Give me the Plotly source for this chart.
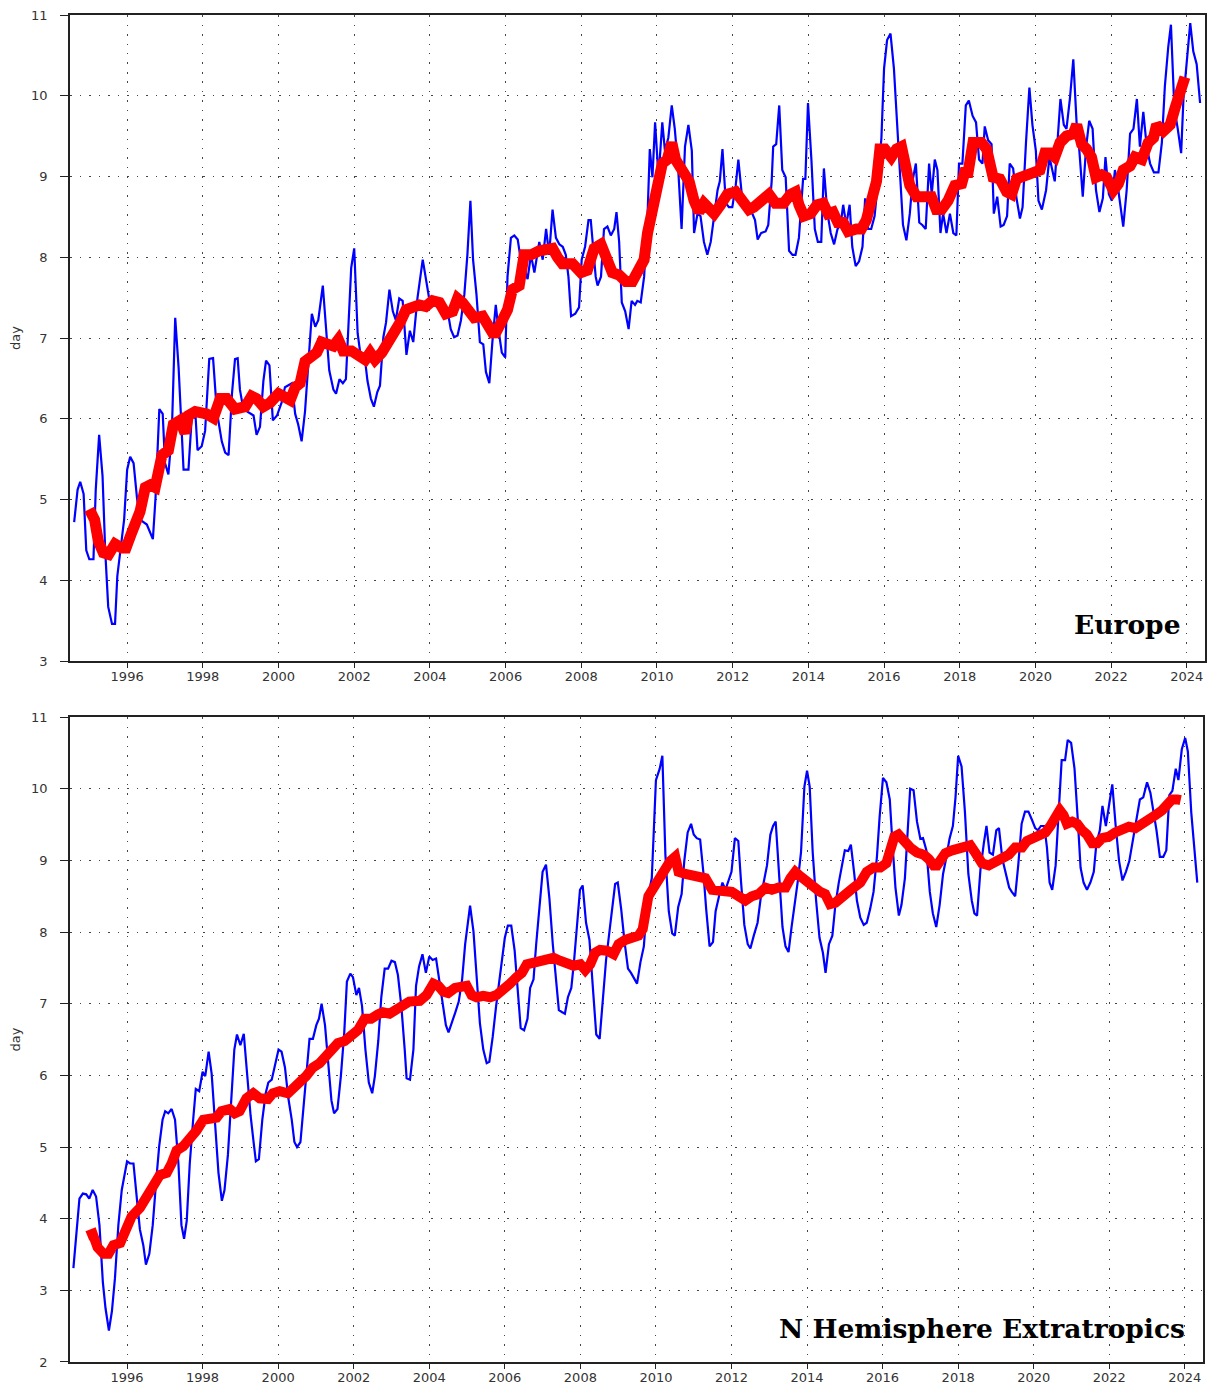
import plotly.graph_objects as go

# ---------------- Europe ----------------
eu_month_year = [
1994.60,1994.69,1994.76,1994.85,1994.92,1995.00,1995.11,1995.17,1995.26,1995.35,1995.42,1995.50,1995.60,1995.68,1995.74,1995.83,1995.92,
1996.00,1996.08,1996.17,1996.26,1996.34,1996.52,1996.68,1996.75,1996.85,1996.94,1997.00,1997.09,1997.18,1997.27,1997.36,1997.43,1997.49,
1997.62,1997.71,1997.80,1997.86,1997.97,1998.06,1998.17,1998.27,1998.37,1998.50,1998.59,1998.68,1998.77,1998.85,1998.92,1998.98,1999.07,
1999.16,1999.34,1999.42,1999.51,1999.60,1999.67,1999.76,1999.85,1999.96,2000.08,2000.17,2000.35,2000.44,2000.52,2000.61,2000.70,2000.82,
2000.88,2000.97,2001.05,2001.17,2001.25,2001.34,2001.45,2001.52,2001.61,2001.70,2001.78,2001.92,2002.00,2002.09,2002.18,2002.29,2002.35,
2002.44,2002.52,2002.61,2002.68,2002.77,2002.84,2002.93,2003.02,2003.10,2003.19,2003.28,2003.38,2003.47,2003.56,2003.67,2003.81,2003.89,
2003.98,2004.07,2004.20,2004.47,2004.55,2004.64,2004.73,2004.82,2004.91,2004.99,2005.07,2005.14,2005.23,2005.32,2005.41,2005.48,2005.57,
2005.65,2005.74,2005.81,2005.90,2005.99,2006.05,2006.14,2006.23,2006.32,2006.40,2006.49,2006.58,2006.67,2006.76,2006.89,2006.98,2007.07,
2007.15,2007.24,2007.33,2007.42,2007.51,2007.59,2007.66,2007.73,2007.84,2007.94,2008.01,2008.10,2008.19,2008.25,2008.31,2008.38,2008.43,
2008.52,2008.60,2008.69,2008.78,2008.87,2008.93,2009.00,2009.07,2009.16,2009.25,2009.33,2009.42,2009.48,2009.57,2009.66,2009.75,2009.81,
2009.88,2009.95,2010.04,2010.14,2010.21,2010.30,2010.39,2010.47,2010.56,2010.65,2010.74,2010.83,2010.92,2010.98,2011.07,2011.15,2011.24,
2011.33,2011.42,2011.51,2011.60,2011.66,2011.73,2011.82,2011.90,2011.99,2012.08,2012.15,2012.24,2012.32,2012.50,2012.59,2012.66,2012.75,
2012.87,2012.94,2013.03,2013.07,2013.15,2013.23,2013.31,2013.40,2013.49,2013.58,2013.66,2013.75,2013.86,2013.92,2013.99,2014.08,2014.17,
2014.25,2014.34,2014.41,2014.50,2014.59,2014.68,2014.77,2014.85,2014.92,2015.00,2015.09,2015.16,2015.25,2015.34,2015.43,2015.50,2015.58,
2015.66,2015.75,2015.84,2015.93,2016.00,2016.08,2016.17,2016.26,2016.34,2016.43,2016.50,2016.59,2016.68,2016.75,2016.84,2016.93,2017.01,
2017.10,2017.19,2017.26,2017.34,2017.41,2017.49,2017.56,2017.65,2017.74,2017.83,2017.91,2017.98,2018.07,2018.16,2018.24,2018.34,2018.43,
2018.51,2018.60,2018.66,2018.75,2018.84,2018.90,2018.99,2019.08,2019.16,2019.25,2019.32,2019.41,2019.50,2019.59,2019.66,2019.75,2019.84,
2019.92,2020.01,2020.08,2020.17,2020.28,2020.37,2020.51,2020.58,2020.66,2020.75,2020.82,2020.91,2021.00,2021.09,2021.16,2021.25,2021.34,
2021.42,2021.51,2021.60,2021.69,2021.78,2021.85,2021.94,2022.02,2022.10,2022.19,2022.32,2022.41,2022.50,2022.59,2022.68,2022.76,2022.85,
2022.94,2023.03,2023.13,2023.25,2023.34,2023.42,2023.51,2023.58,2023.67,2023.76,2023.85,2023.91,2024.00,2024.09,2024.17,2024.26,2024.35]
eu_month_day = [
4.72,5.12,5.22,5.07,4.37,4.26,4.26,5.12,5.80,5.29,4.37,3.67,3.46,3.46,4.05,4.37,4.75,
5.37,5.53,5.45,5.02,4.75,4.69,4.51,5.02,6.12,6.06,5.45,5.31,5.82,7.25,6.63,6.04,5.37,
5.37,6.04,6.09,5.61,5.66,5.85,6.74,6.75,6.09,5.72,5.58,5.55,6.31,6.74,6.75,6.36,6.12,
6.09,6.04,5.80,5.90,6.47,6.72,6.66,5.98,6.04,6.20,6.39,6.44,6.06,5.93,5.72,6.09,6.90,
7.30,7.14,7.22,7.65,7.11,6.60,6.36,6.31,6.49,6.44,6.49,7.87,8.11,7.06,6.74,6.71,6.47,
6.25,6.15,6.33,6.41,7.01,7.19,7.60,7.33,7.22,7.49,7.46,6.79,7.09,6.95,7.49,7.97,7.76,
7.49,7.44,7.44,7.33,7.11,7.01,7.03,7.22,7.54,8.03,8.70,7.97,7.54,6.95,6.92,6.58,6.44,
6.95,7.41,7.11,6.82,6.76,7.76,8.24,8.27,8.22,7.97,7.87,7.73,8.03,7.81,8.19,7.97,8.35,
8.03,8.59,8.24,8.16,8.13,8.03,7.76,7.27,7.30,7.38,7.97,8.13,8.46,8.46,8.08,7.76,7.65,
7.76,8.35,8.38,8.27,8.35,8.56,8.19,7.44,7.33,7.11,7.46,7.41,7.46,7.44,7.76,8.51,9.34,
8.99,9.67,8.99,9.67,9.32,9.48,9.88,9.59,9.10,8.35,9.37,9.64,9.32,8.30,8.54,8.51,8.19,
8.03,8.19,8.54,8.83,8.94,9.34,8.67,8.62,8.62,8.89,9.21,8.78,8.62,8.56,8.46,8.22,8.30,
8.32,8.40,8.94,9.37,9.40,9.88,9.08,8.99,8.08,8.03,8.03,8.24,8.97,8.97,9.91,9.21,8.35,
8.19,8.19,9.10,8.56,8.30,8.16,8.35,8.40,8.65,8.40,8.65,8.13,7.89,7.95,8.13,8.73,8.35,
8.35,8.51,8.94,9.48,10.34,10.69,10.77,10.34,9.69,8.99,8.40,8.21,8.54,8.94,9.16,8.43,8.40,
8.35,9.16,8.78,9.21,9.08,8.30,8.54,8.30,8.54,8.30,8.27,9.16,9.16,9.88,9.94,9.75,9.67,
9.21,9.16,9.62,9.45,9.40,8.54,8.75,8.38,8.40,8.51,9.16,9.10,8.73,8.48,8.62,9.42,10.10,
9.64,9.32,8.70,8.59,8.83,9.24,8.94,9.48,9.96,9.64,9.59,9.96,10.45,9.64,9.32,8.75,9.37,
9.69,9.59,8.83,8.56,8.73,9.24,8.78,8.70,9.08,8.83,8.38,8.83,9.53,9.59,9.96,9.37,9.80,
9.37,9.16,9.05,9.05,9.42,10.12,10.61,10.88,9.85,9.59,9.29,9.96,10.47,10.90,10.55,10.39,9.91]

eu_mean_year = [
1995.00,1995.14,1995.24,1995.37,1995.51,1995.68,1995.86,1995.97,1996.12,1996.34,1996.48,1996.61,1996.74,1996.92,1997.09,1997.22,1997.40,
1997.53,1997.62,1997.80,1998.10,1998.28,1998.46,1998.63,1998.85,1999.12,1999.29,1999.42,1999.60,1999.78,2000.00,2000.17,2000.31,2000.44,
2000.57,2000.70,2000.88,2001.01,2001.14,2001.32,2001.45,2001.58,2001.71,2001.93,2002.15,2002.29,2002.42,2002.55,2002.73,2002.90,2003.08,
2003.21,2003.37,2003.54,2003.72,2003.89,2004.07,2004.25,2004.42,2004.60,2004.73,2004.86,2004.99,2005.17,2005.39,2005.52,2005.70,2005.88,
2006.05,2006.18,2006.36,2006.49,2006.67,2006.89,2007.06,2007.24,2007.37,2007.50,2007.77,2007.99,2008.16,2008.34,2008.52,2008.65,2008.82,
2009.00,2009.18,2009.35,2009.51,2009.66,2009.75,2009.88,2010.01,2010.14,2010.27,2010.39,2010.49,2010.67,2010.85,2010.98,2011.11,2011.24,
2011.38,2011.51,2011.68,2011.86,2012.08,2012.26,2012.43,2012.56,2012.74,2012.96,2013.13,2013.35,2013.53,2013.66,2013.75,2013.88,2014.06,
2014.23,2014.39,2014.52,2014.65,2014.78,2014.92,2015.05,2015.27,2015.40,2015.53,2015.66,2015.80,2015.89,2016.02,2016.19,2016.33,2016.46,
2016.55,2016.68,2016.86,2017.08,2017.25,2017.38,2017.52,2017.69,2017.87,2018.05,2018.13,2018.22,2018.35,2018.57,2018.71,2018.88,2019.06,
2019.24,2019.37,2019.50,2019.72,2019.94,2020.12,2020.25,2020.38,2020.51,2020.65,2020.82,2021.00,2021.09,2021.22,2021.35,2021.48,2021.60,
2021.75,2021.88,2022.06,2022.19,2022.32,2022.50,2022.63,2022.81,2022.98,2023.12,2023.20,2023.38,2023.56,2023.69,2023.82,2023.95]
eu_mean_day = [
4.88,4.75,4.48,4.34,4.32,4.45,4.40,4.40,4.59,4.85,5.15,5.18,5.15,5.55,5.61,5.93,5.98,
5.82,6.04,6.09,6.06,6.01,6.25,6.25,6.12,6.15,6.28,6.25,6.15,6.20,6.31,6.28,6.23,6.39,
6.44,6.71,6.76,6.82,6.95,6.92,6.90,6.98,6.84,6.84,6.76,6.73,6.82,6.73,6.82,6.95,7.06,
7.19,7.35,7.38,7.41,7.39,7.46,7.44,7.30,7.33,7.49,7.44,7.38,7.25,7.27,7.14,7.03,7.19,
7.35,7.60,7.65,8.03,8.03,8.08,8.11,8.11,8.00,7.92,7.92,7.81,7.84,8.11,8.16,7.97,7.81,
7.78,7.70,7.70,7.81,7.97,8.30,8.56,8.78,9.16,9.21,9.42,9.21,9.10,8.94,8.70,8.56,8.67,
8.62,8.54,8.65,8.78,8.81,8.67,8.59,8.62,8.70,8.78,8.67,8.67,8.78,8.81,8.65,8.51,8.54,
8.65,8.67,8.54,8.56,8.43,8.43,8.32,8.35,8.35,8.46,8.67,8.94,9.34,9.34,9.24,9.34,9.37,
9.16,8.89,8.75,8.75,8.75,8.59,8.59,8.70,8.89,8.91,9.05,9.05,9.42,9.42,9.34,8.99,8.97,
8.81,8.78,8.97,9.02,9.05,9.08,9.29,9.29,9.24,9.42,9.50,9.53,9.64,9.40,9.34,9.24,8.99,
9.02,8.99,8.83,8.91,9.08,9.13,9.24,9.21,9.42,9.48,9.64,9.56,9.64,9.85,10.07,10.23]

# ---------------- N Hemisphere Extratropics ----------------
nh_month_year = [
1994.58,1994.67,1994.74,1994.83,1994.92,1995.00,1995.09,1995.18,1995.27,1995.36,1995.43,1995.52,1995.60,1995.68,1995.77,1995.86,1995.93,
1996.00,1996.08,1996.17,1996.26,1996.34,1996.43,1996.50,1996.59,1996.68,1996.77,1996.85,1996.94,1997.01,1997.09,1997.18,1997.27,1997.36,
1997.44,1997.51,1997.58,1997.66,1997.75,1997.82,1997.91,1998.00,1998.07,1998.16,1998.24,1998.33,1998.42,1998.51,1998.58,1998.67,1998.76,
1998.84,1998.91,1999.00,1999.09,1999.18,1999.27,1999.35,1999.41,1999.49,1999.58,1999.67,1999.74,1999.83,1999.92,2000.01,2000.09,2000.18,
2000.27,2000.36,2000.43,2000.50,2000.59,2000.67,2000.74,2000.83,2000.92,2001.01,2001.08,2001.15,2001.24,2001.33,2001.41,2001.48,2001.57,
2001.66,2001.75,2001.82,2001.91,2001.98,2002.07,2002.14,2002.22,2002.31,2002.40,2002.49,2002.56,2002.65,2002.73,2002.82,2002.91,2003.00,
2003.09,2003.17,2003.26,2003.35,2003.40,2003.49,2003.58,2003.65,2003.73,2003.82,2003.91,2004.00,2004.09,2004.18,2004.27,2004.35,2004.44,
2004.51,2004.60,2004.69,2004.78,2004.87,2004.95,2005.08,2005.17,2005.25,2005.34,2005.43,2005.52,2005.59,2005.68,2005.77,2005.86,2005.93,
2006.00,2006.08,2006.17,2006.26,2006.35,2006.42,2006.51,2006.60,2006.67,2006.76,2006.83,2006.92,2007.00,2007.09,2007.18,2007.27,2007.34,
2007.43,2007.52,2007.59,2007.67,2007.76,2007.83,2007.92,2007.99,2008.06,2008.15,2008.24,2008.33,2008.42,2008.51,2008.59,2008.68,2008.77,
2008.86,2008.92,2008.99,2009.08,2009.17,2009.26,2009.34,2009.43,2009.50,2009.59,2009.68,2009.77,2009.89,2010.00,2010.10,2010.17,2010.25,
2010.34,2010.43,2010.50,2010.59,2010.68,2010.75,2010.84,2010.93,2011.00,2011.08,2011.17,2011.26,2011.33,2011.42,2011.51,2011.58,2011.67,
2011.76,2011.84,2011.93,2012.00,2012.09,2012.18,2012.25,2012.34,2012.43,2012.50,2012.59,2012.69,2012.78,2012.87,2012.94,2013.03,2013.10,
2013.17,2013.26,2013.35,2013.43,2013.51,2013.59,2013.68,2013.75,2013.84,2013.93,2014.00,2014.07,2014.15,2014.24,2014.33,2014.42,2014.49,
2014.58,2014.67,2014.75,2014.84,2014.93,2015.00,2015.09,2015.16,2015.25,2015.32,2015.41,2015.50,2015.58,2015.67,2015.76,2015.85,2015.92,
2016.01,2016.10,2016.19,2016.26,2016.34,2016.43,2016.50,2016.59,2016.66,2016.73,2016.82,2016.91,2017.00,2017.07,2017.16,2017.25,2017.33,
2017.42,2017.51,2017.60,2017.69,2017.77,2017.86,2017.93,2018.00,2018.09,2018.18,2018.27,2018.36,2018.43,2018.50,2018.59,2018.68,2018.75,
2018.83,2018.92,2019.01,2019.08,2019.17,2019.26,2019.35,2019.42,2019.51,2019.59,2019.68,2019.77,2019.86,2019.95,2020.04,2020.11,2020.19,
2020.28,2020.35,2020.42,2020.49,2020.58,2020.67,2020.74,2020.83,2020.90,2020.99,2021.08,2021.17,2021.24,2021.32,2021.41,2021.50,2021.59,
2021.66,2021.75,2021.82,2021.91,2022.00,2022.08,2022.17,2022.26,2022.35,2022.44,2022.53,2022.61,2022.70,2022.81,2022.90,2023.00,2023.09,
2023.18,2023.25,2023.34,2023.43,2023.51,2023.59,2023.67,2023.76,2023.83,2023.92,2024.01,2024.08,2024.17,2024.26,2024.33]
nh_month_day = [
3.31,3.91,4.28,4.35,4.34,4.28,4.40,4.31,3.91,3.11,2.75,2.44,2.71,3.17,3.91,4.40,4.60,
4.80,4.77,4.77,4.28,3.85,3.63,3.36,3.51,3.91,4.52,5.01,5.38,5.50,5.47,5.53,5.38,4.77,
3.91,3.72,3.97,4.77,5.38,5.81,5.78,6.05,5.99,6.33,6.02,5.26,4.64,4.25,4.40,4.89,5.68,
6.36,6.57,6.42,6.58,5.99,5.44,5.07,4.80,4.83,5.38,5.75,5.90,5.94,6.17,6.36,6.33,6.11,
5.68,5.38,5.07,5.00,5.07,5.56,6.05,6.51,6.51,6.70,6.79,7.00,6.70,6.17,5.65,5.47,5.53,
5.99,6.60,7.31,7.42,7.37,7.12,7.22,6.97,6.36,5.90,5.75,5.99,6.48,7.09,7.49,7.49,7.60,
7.58,7.40,6.97,6.36,5.96,5.94,6.36,7.25,7.52,7.69,7.43,7.66,7.61,7.63,7.31,6.97,6.70,
6.60,6.73,6.88,7.03,7.34,7.83,8.37,8.01,7.34,6.73,6.36,6.17,6.19,6.54,6.97,7.34,7.58,
7.92,8.09,8.09,7.74,7.18,6.66,6.63,6.79,7.22,7.34,7.83,8.32,8.84,8.94,8.47,7.83,7.43,
6.91,6.88,6.86,7.09,7.22,7.58,8.20,8.59,8.65,8.13,7.89,7.28,6.57,6.51,7.09,7.61,8.01,
8.38,8.67,8.69,8.32,7.86,7.49,7.43,7.34,7.28,7.58,7.80,8.44,8.75,10.12,10.28,10.46,9.08,
8.29,7.98,7.95,8.35,8.53,8.99,9.39,9.51,9.36,9.31,9.29,8.81,8.32,7.80,7.86,8.29,8.50,
8.69,8.59,8.75,8.84,9.31,9.27,8.72,8.10,7.83,7.77,7.95,8.13,8.50,8.75,8.93,9.36,9.48,
9.54,8.75,8.07,7.80,7.72,8.07,8.41,8.69,9.11,10.03,10.25,10.03,9.11,8.44,7.92,7.71,7.43,
7.83,7.95,8.38,8.69,8.93,9.14,9.13,9.22,8.81,8.44,8.20,8.10,8.13,8.32,8.56,9.05,9.60,
10.15,10.09,9.85,9.24,8.62,8.23,8.38,8.75,9.42,10.00,9.98,9.54,9.30,9.31,9.14,8.56,8.26,
8.07,8.38,8.81,9.05,9.30,9.48,9.88,10.46,10.31,9.67,8.81,8.44,8.26,8.23,8.87,9.24,9.48,
9.11,9.08,9.42,9.45,9.02,8.81,8.62,8.56,8.50,8.93,9.51,9.68,9.68,9.57,9.45,9.42,9.48,
9.48,9.18,8.69,8.59,8.93,9.67,10.40,10.40,10.68,10.64,10.28,9.54,8.90,8.69,8.59,8.69,8.84,
9.24,9.42,9.76,9.48,9.79,10.06,9.48,8.99,8.72,8.84,8.99,9.24,9.54,9.85,9.88,10.09,9.94,
9.67,9.42,9.05,9.05,9.14,9.91,9.97,10.28,10.12,10.55,10.71,10.52,9.67,9.11,8.69]

nh_mean_year = [
1994.95,1995.09,1995.22,1995.38,1995.51,1995.64,1995.82,1995.95,1996.12,1996.34,1996.52,1996.70,1996.87,1997.05,1997.18,1997.31,1997.49,
1997.66,1997.84,1998.02,1998.24,1998.37,1998.50,1998.72,1998.85,1998.98,1999.16,1999.34,1999.51,1999.73,1999.86,2000.04,2000.26,2000.39,
2000.57,2000.74,2000.92,2001.10,2001.27,2001.45,2001.58,2001.76,2001.93,2002.11,2002.29,2002.46,2002.64,2002.77,2002.95,2003.12,2003.30,
2003.47,2003.75,2003.93,2004.11,2004.24,2004.37,2004.50,2004.68,2004.86,2004.99,2005.12,2005.25,2005.43,2005.61,2005.78,2005.96,2006.14,
2006.31,2006.45,2006.58,2006.76,2006.93,2007.11,2007.29,2007.46,2007.64,2007.82,2008.00,2008.13,2008.26,2008.39,2008.52,2008.70,2008.88,
2009.01,2009.19,2009.36,2009.54,2009.65,2009.72,2009.80,2009.94,2010.07,2010.20,2010.38,2010.51,2010.60,2010.78,2010.95,2011.13,2011.31,
2011.49,2011.67,2011.84,2012.01,2012.19,2012.37,2012.54,2012.72,2012.90,2013.07,2013.25,2013.43,2013.56,2013.69,2013.82,2014.00,2014.17,
2014.35,2014.48,2014.61,2014.75,2014.92,2015.06,2015.23,2015.41,2015.58,2015.76,2015.94,2016.10,2016.20,2016.31,2016.42,2016.56,2016.73,
2016.91,2017.09,2017.22,2017.35,2017.44,2017.53,2017.66,2017.84,2018.01,2018.19,2018.32,2018.45,2018.63,2018.81,2018.99,2019.16,2019.34,
2019.51,2019.69,2019.82,2019.96,2020.13,2020.31,2020.44,2020.57,2020.69,2020.79,2020.88,2021.02,2021.15,2021.28,2021.41,2021.55,2021.68,
2021.81,2021.99,2022.16,2022.34,2022.52,2022.69,2022.87,2023.05,2023.22,2023.40,2023.53,2023.66,2023.80,2023.89]
nh_mean_day = [
3.76,3.79,3.60,3.51,3.51,3.63,3.66,3.82,4.03,4.15,4.34,4.46,4.61,4.64,4.77,4.95,5.01,
5.10,5.23,5.38,5.39,5.41,5.50,5.53,5.47,5.50,5.68,5.75,5.68,5.67,5.75,5.78,5.75,5.81,
5.87,5.99,6.11,6.17,6.27,6.36,6.45,6.48,6.57,6.63,6.79,6.79,6.85,6.88,6.86,6.91,7.00,
7.03,7.04,7.12,7.28,7.25,7.17,7.15,7.22,7.25,7.25,7.12,7.09,7.11,7.09,7.12,7.18,7.28,
7.37,7.43,7.55,7.58,7.60,7.64,7.64,7.60,7.55,7.53,7.55,7.47,7.55,7.71,7.75,7.74,7.69,
7.83,7.89,7.92,7.95,8.04,8.32,8.50,8.62,8.75,8.87,8.99,9.05,8.84,8.81,8.80,8.78,8.75,
8.59,8.59,8.58,8.56,8.50,8.44,8.50,8.53,8.62,8.59,8.62,8.62,8.75,8.84,8.78,8.69,8.62,
8.56,8.53,8.39,8.41,8.50,8.56,8.62,8.69,8.84,8.90,8.90,8.96,9.14,9.33,9.36,9.27,9.18,
9.11,9.08,9.02,8.93,8.93,8.99,9.10,9.14,9.16,9.18,9.21,9.11,8.96,8.93,8.99,9.02,9.08,
9.18,9.18,9.27,9.31,9.33,9.39,9.48,9.60,9.70,9.63,9.51,9.54,9.51,9.42,9.36,9.24,9.24,
9.31,9.33,9.39,9.42,9.47,9.45,9.51,9.54,9.63,9.70,9.76,9.85,9.85,9.84]

year_ticks = [1996, 1998, 2000, 2002, 2004, 2006, 2008, 2010, 2012, 2014, 2016, 2018, 2020, 2022, 2024]
eu_day_ticks = [3, 4, 5, 6, 7, 8, 9, 10, 11]
nh_day_ticks = [2, 3, 4, 5, 6, 7, 8, 9, 10, 11]

BLUE = "#0000ff"
RED = "#ff0000"

fig = go.Figure()
fig.add_trace(go.Scatter(x=eu_month_year, y=eu_month_day, mode="lines",
                         line=dict(color=BLUE, width=2.2), xaxis="x", yaxis="y", showlegend=False))
fig.add_trace(go.Scatter(x=eu_mean_year, y=eu_mean_day, mode="lines",
                         line=dict(color=RED, width=11), xaxis="x", yaxis="y", showlegend=False))
fig.add_trace(go.Scatter(x=nh_month_year, y=nh_month_day, mode="lines",
                         line=dict(color=BLUE, width=2.2), xaxis="x2", yaxis="y2", showlegend=False))
fig.add_trace(go.Scatter(x=nh_mean_year, y=nh_mean_day, mode="lines",
                         line=dict(color=RED, width=10), xaxis="x2", yaxis="y2", showlegend=False))

tickfont = dict(family="DejaVu Sans", size=13, color="#333333")
common_x = dict(range=[1994.49, 2024.48], tickvals=year_ticks, showgrid=True,
                gridcolor="#444444", gridwidth=1, griddash="1.5px,8px",
                showline=True, linecolor="#222222", linewidth=1.5, mirror=True,
                ticks="outside", ticklen=5, tickcolor="#222222", tickfont=tickfont,
                zeroline=False, ticklabelstandoff=-2, automargin=False)
common_y = dict(dtick=1, showgrid=True, gridcolor="#444444", gridwidth=1, griddash="1.5px,8px",
                showline=True, linecolor="#222222", linewidth=1.5, mirror=True,
                ticks="outside", ticklen=8, tickcolor="#222222", tickfont=tickfont,
                zeroline=False, ticklabelstandoff=10, automargin=False,
                title=dict(text="day", font=dict(family="DejaVu Sans", size=13, color="#333333"), standoff=8))

fig.update_layout(
    width=1212, height=1387,
    margin=dict(l=70, r=7, t=15, b=25),
    paper_bgcolor="white", plot_bgcolor="white",
    xaxis=dict(domain=[0, 1], anchor="y", **common_x),
    yaxis=dict(domain=[0.5204, 1.0], anchor="x", range=[3, 11], tickvals=eu_day_ticks, **common_y),
    xaxis2=dict(domain=[0, 0.9982], anchor="y2", **common_x),
    yaxis2=dict(domain=[0.0, 0.4788], anchor="x2", range=[2, 11], tickvals=nh_day_ticks, **common_y),
    annotations=[
        dict(text="<b>Europe</b>", x=0.9806, xref="paper", xanchor="right",
             y=3.45, yref="y", yanchor="middle", showarrow=False,
             font=dict(family="DejaVu Serif", size=26.5, color="black")),
        dict(text="<b>N Hemisphere Extratropics</b>", x=0.9841, xref="paper", xanchor="right",
             y=2.47, yref="y2", yanchor="middle", showarrow=False,
             font=dict(family="DejaVu Serif", size=26.5, color="black")),
    ],
)

fig.write_html("out.html", config={"displayModeBar": False},
               post_script="document.body.style.margin='0px';document.body.style.padding='0px';"
                           "document.documentElement.style.overflow='hidden';")
